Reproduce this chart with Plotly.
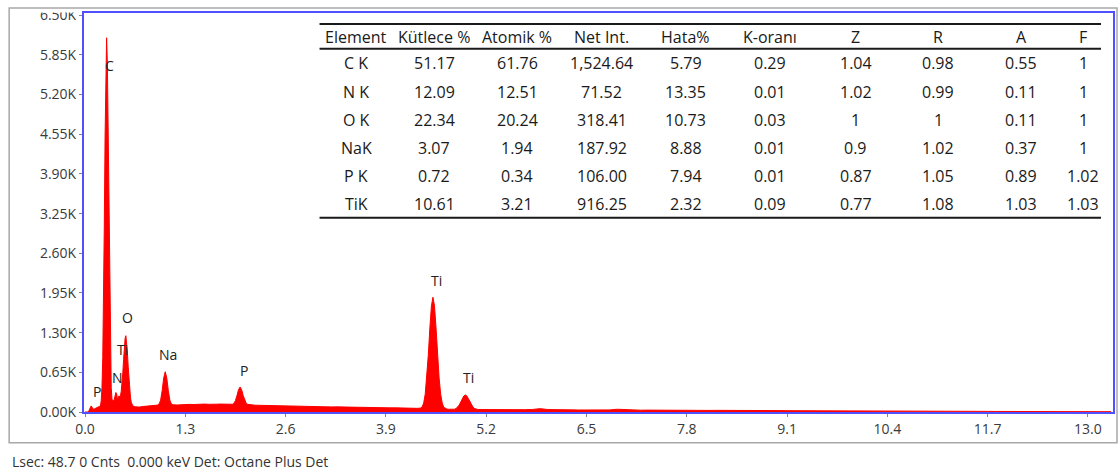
import plotly.graph_objects as go

# ---------------- spectrum data (keV, counts) ----------------
seg_low_kev = [0.00, 0.01, 0.02, 0.03, 0.04, 0.05, 0.06, 0.07, 0.08, 0.09,
               0.10, 0.11, 0.12, 0.13, 0.14, 0.15, 0.16, 0.17, 0.18, 0.19]
seg_low_cnt = [0, 0, 0, 0, 0, 20, 50, 90, 100, 80,
               55, 45, 50, 55, 60, 65, 70, 75, 80, 90]

seg_c_kev = [0.20, 0.21, 0.22, 0.23, 0.24, 0.25, 0.26, 0.27, 0.28, 0.29,
             0.30, 0.31, 0.32, 0.33, 0.34, 0.35]
seg_c_cnt = [100, 180, 400, 890, 1760, 3030, 4490, 5690, 6130, 5690,
             4490, 3030, 1760, 890, 400, 200]

seg_no_kev = [0.36, 0.37, 0.38, 0.39, 0.40, 0.41, 0.42, 0.43, 0.44, 0.45,
              0.46, 0.47, 0.48, 0.49, 0.50, 0.51, 0.52, 0.53, 0.54, 0.55,
              0.56, 0.57, 0.58, 0.59, 0.60, 0.61, 0.62]
seg_no_cnt = [190, 185, 210, 260, 320, 300, 215, 225, 265, 245,
              270, 340, 470, 640, 860, 1060, 1210, 1250, 1150, 960,
              740, 520, 350, 230, 160, 120, 100]

seg_bg1_kev = [0.65, 0.70, 0.75, 0.80, 0.85, 0.90]
seg_bg1_cnt = [85, 80, 90, 95, 100, 108]

seg_na_kev = [0.94, 0.96, 0.98, 1.00, 1.02, 1.04, 1.06, 1.08, 1.10, 1.12, 1.14]
seg_na_cnt = [113, 130, 194, 349, 556, 660, 556, 349, 194, 130, 118]

seg_bg2_kev = [1.20, 1.25, 1.30, 1.35, 1.40, 1.45, 1.50, 1.55, 1.60, 1.65,
               1.70, 1.75, 1.80, 1.85]
seg_bg2_cnt = [115, 120, 118, 125, 122, 128, 124, 130, 126, 132,
               128, 130, 127, 125]

seg_p_kev = [1.89, 1.91, 1.93, 1.95, 1.97, 1.99, 2.01, 2.03, 2.05, 2.07,
             2.09, 2.11, 2.13]
seg_p_cnt = [126, 127, 141, 187, 271, 366, 410, 366, 271, 187,
             141, 125, 120]

seg_bg3_kev = [2.15, 2.20, 2.25, 2.30, 2.35, 2.40, 2.45, 2.50, 2.55, 2.60,
               2.65, 2.70, 2.75, 2.80, 2.85, 2.90, 2.95, 3.00, 3.05, 3.10,
               3.15, 3.20, 3.25, 3.30, 3.35, 3.40, 3.45, 3.50, 3.55, 3.60,
               3.65, 3.70, 3.75, 3.80, 3.85, 3.90, 3.95, 4.00, 4.05, 4.10,
               4.15, 4.20, 4.25, 4.30]
seg_bg3_cnt = [118, 112, 110, 108, 105, 104, 102, 100, 99, 97,
               96, 94, 95, 92, 91, 90, 91, 88, 86, 87,
               85, 83, 84, 82, 80, 81, 78, 77, 78, 75,
               74, 75, 72, 71, 72, 70, 68, 69, 66, 65,
               66, 63, 62, 60]

seg_ti_kev = [4.33, 4.35, 4.37, 4.39, 4.41, 4.43, 4.45, 4.47, 4.49, 4.51,
              4.53, 4.55, 4.57, 4.59, 4.61, 4.63, 4.65, 4.67, 4.69, 4.71,
              4.73, 4.75, 4.77, 4.79, 4.81, 4.83, 4.85, 4.87, 4.89, 4.91,
              4.93, 4.95, 4.97, 4.99, 5.01, 5.03, 5.05, 5.07, 5.09]
seg_ti_cnt = [62, 66, 84, 148, 293, 555, 938, 1377, 1738, 1880,
              1738, 1377, 938, 555, 293, 148, 78, 55, 48, 45,
              44, 44, 46, 46, 57, 78, 113, 163, 218, 263,
              280, 263, 218, 163, 113, 78, 57, 46, 42]

seg_hi_kev = [5.2, 5.3, 5.4, 5.5, 5.6, 5.7, 5.8, 5.9, 6.0, 6.1,
              6.2, 6.3, 6.4, 6.5, 6.6, 6.7, 6.8, 6.9, 7.0, 7.1,
              7.2, 7.3, 7.4, 7.5, 7.6, 7.7, 7.8, 7.9, 8.0, 8.1,
              8.2, 8.3, 8.4, 8.5, 8.6, 8.7, 8.8, 8.9, 9.0, 9.1,
              9.2, 9.3, 9.4, 9.5, 9.6, 9.7, 9.8, 9.9, 10.0, 10.1,
              10.2, 10.3, 10.4, 10.5, 10.6, 10.7, 10.8, 10.9, 11.0, 11.1,
              11.2, 11.3, 11.4, 11.5, 11.6, 11.7, 11.8, 11.9, 12.0, 12.1,
              12.2, 12.3, 12.4, 12.5, 12.6, 12.7, 12.8, 12.9, 13.0, 13.1,
              13.2, 13.3]
seg_hi_cnt = [40, 38, 39, 37, 36, 38, 42, 55, 40, 35,
              34, 35, 33, 32, 33, 31, 34, 45, 36, 31,
              30, 31, 29, 30, 28, 29, 28, 27, 28, 26,
              27, 25, 26, 25, 24, 25, 23, 24, 23, 22,
              22, 21, 22, 20, 20, 19, 19, 18, 18, 17,
              17, 16, 16, 15, 15, 14, 14, 13, 13, 12,
              12, 11, 11, 10, 10, 10, 9, 9, 9, 8,
              8, 8, 7, 7, 7, 6, 6, 6, 5, 5,
              5, 5]

# ROI highlight bands (keV centre, keV width, base counts, height counts)
roi_center = [0.27, 0.518]
roi_width = [0.107, 0.045]
roi_base = [0, 500]
roi_height = [530, 760]

# peak labels
peak_labels = ["C", "P", "N", "Ti", "O", "Na", "P", "Ti", "Ti"]
peak_label_kev = [0.315, 0.16, 0.42, 0.48, 0.555, 1.08, 2.06, 4.56, 4.97]
peak_label_cnt = [5670, 340, 560, 1020, 1540, 950, 680, 2150, 560]

# axis ticks
x_ticks = [0.0, 1.3, 2.6, 3.9, 5.2, 6.5, 7.8, 9.1, 10.4, 11.7, 13.0]
y_ticks = [0, 650, 1300, 1950, 2600, 3250, 3900, 4550, 5200, 5850, 6500]
y_tick_text = ["0.00K", "0.65K", "1.30K", "1.95K", "2.60K", "3.25K",
               "3.90K", "4.55K", "5.20K", "5.85K", "6.50K"]

# table
table_header = ["Element", "Kütlece %", "Atomik %", "Net Int.", "Hata%",
                "K-oranı", "Z", "R", "A", "F"]
tbl_element = ["C K", "N K", "O K", "NaK", "P K", "TiK"]
tbl_kutle = ["51.17", "12.09", "22.34", "3.07", "0.72", "10.61"]
tbl_atomik = ["61.76", "12.51", "20.24", "1.94", "0.34", "3.21"]
tbl_netint = ["1,524.64", "71.52", "318.41", "187.92", "106.00", "916.25"]
tbl_hata = ["5.79", "13.35", "10.73", "8.88", "7.94", "2.32"]
tbl_korani = ["0.29", "0.01", "0.03", "0.01", "0.01", "0.09"]
tbl_z = ["1.04", "1.02", "1", "0.9", "0.87", "0.77"]
tbl_r = ["0.98", "0.99", "1", "1.02", "1.05", "1.08"]
tbl_a = ["0.55", "0.11", "0.11", "0.37", "0.89", "1.03"]
tbl_f = ["1", "1", "1", "1", "1.02", "1.03"]

footer_text = "Lsec: 48.7 0 Cnts \u00a00.000 keV Det: Octane Plus Det"

# ---------------- assemble ----------------
energy_kev = (seg_low_kev + seg_c_kev + seg_no_kev + seg_bg1_kev + seg_na_kev +
              seg_bg2_kev + seg_p_kev + seg_bg3_kev + seg_ti_kev + seg_hi_kev)
counts = (seg_low_cnt + seg_c_cnt + seg_no_cnt + seg_bg1_cnt + seg_na_cnt +
          seg_bg2_cnt + seg_p_cnt + seg_bg3_cnt + seg_ti_cnt + seg_hi_cnt)
assert len(energy_kev) == len(counts)

W, H = 1120, 475
ML, MR, MT, MB = 84, 5, 11, 63
PW, PH = W - ML - MR, H - MT - MB


def px(xpix):
    return (xpix - ML) / PW


def py(ypix):
    return (H - MB - ypix) / PH


FONT = "Open Sans"
TXT = "#3a3a3a"

fig = go.Figure()
fig.add_trace(go.Scatter(
    x=energy_kev, y=counts, mode="lines",
    line=dict(color="#ff0000", width=1),
    fill="tozeroy", fillcolor="#ff0000", hoverinfo="skip", showlegend=False))
fig.add_trace(go.Bar(
    x=roi_center, y=roi_height, base=roi_base, width=roi_width,
    marker=dict(color="rgba(255,255,255,0.55)", line=dict(width=0)),
    hoverinfo="skip", showlegend=False))

annotations = []
for lab, xk, yc in zip(peak_labels, peak_label_kev, peak_label_cnt):
    annotations.append(dict(x=xk, y=yc, xref="x", yref="y", text=lab,
                            showarrow=False, xanchor="center", yanchor="middle",
                            font=dict(family=FONT, size=14, color="#222")))

# table layout
col_x = [357, 435, 518, 603, 687, 771, 857, 940, 1023, 1085]
header_y = 35.5
row_y0, row_dy = 61.7, 28.33
columns = [tbl_element, tbl_kutle, tbl_atomik, tbl_netint, tbl_hata,
           tbl_korani, tbl_z, tbl_r, tbl_a, tbl_f]
tfont = dict(family=FONT, size=16, color="#1a1a1a")
for cx, head in zip(col_x, table_header):
    annotations.append(dict(x=px(cx), y=py(header_y), xref="paper", yref="paper",
                            text=head, showarrow=False, xanchor="center",
                            yanchor="middle", font=tfont))
for cx, col in zip(col_x, columns):
    for i, val in enumerate(col):
        annotations.append(dict(x=px(cx), y=py(row_y0 + i * row_dy),
                                xref="paper", yref="paper", text=val,
                                showarrow=False, xanchor="center",
                                yanchor="middle", font=tfont))

annotations.append(dict(x=px(10), y=py(462), xref="paper", yref="paper",
                        text=footer_text, showarrow=False, xanchor="left",
                        yanchor="middle",
                        font=dict(family=FONT, size=14, color="#333")))

shapes = []
# white mask clipping the top tick label
shapes.append(dict(type="rect", xref="paper", yref="paper",
                   x0=px(20), x1=px(81), y0=py(10.5), y1=py(0),
                   fillcolor="white", line=dict(width=0), layer="above"))
# outer gray frame
shapes.append(dict(type="rect", xref="paper", yref="paper",
                   x0=px(9), x1=px(1119), y0=py(443), y1=py(6),
                   fillcolor="rgba(0,0,0,0)",
                   line=dict(color="#a8a8a8", width=1.5), layer="above"))
for ly in [22, 47, 216.7]:
    shapes.append(dict(type="line", xref="paper", yref="paper",
                       x0=px(320), x1=px(1103), y0=py(ly), y1=py(ly),
                       line=dict(color="#1a1a1a", width=2), layer="above"))

x_range = [-0.013, -0.013 + PW / 77.3]
y_range = [0, PH / 61.35 * 1000]

fig.update_layout(
    width=W, height=H, autosize=False,
    margin=dict(l=ML, r=MR, t=MT, b=MB, pad=0),
    paper_bgcolor="white", plot_bgcolor="white",
    showlegend=False, bargap=0,
    annotations=annotations, shapes=shapes,
    font=dict(family=FONT, size=14, color=TXT),
    xaxis=dict(range=x_range, tickvals=x_ticks, tickformat=".1f",
               showgrid=False, zeroline=False, showline=True, mirror=True,
               linecolor="#5050ff", linewidth=2, ticks="outside", ticklen=3,
               tickcolor="#888", tickfont=dict(family=FONT, size=14, color=TXT)),
    yaxis=dict(range=y_range, tickvals=y_ticks, ticktext=y_tick_text,
               showgrid=False, zeroline=False, showline=True, mirror=True,
               linecolor="#5050ff", linewidth=2, ticks="outside", ticklen=3,
               tickcolor="#888", tickfont=dict(family=FONT, size=14, color=TXT)),
)

fig.write_html("out.html", config={"displayModeBar": False})
